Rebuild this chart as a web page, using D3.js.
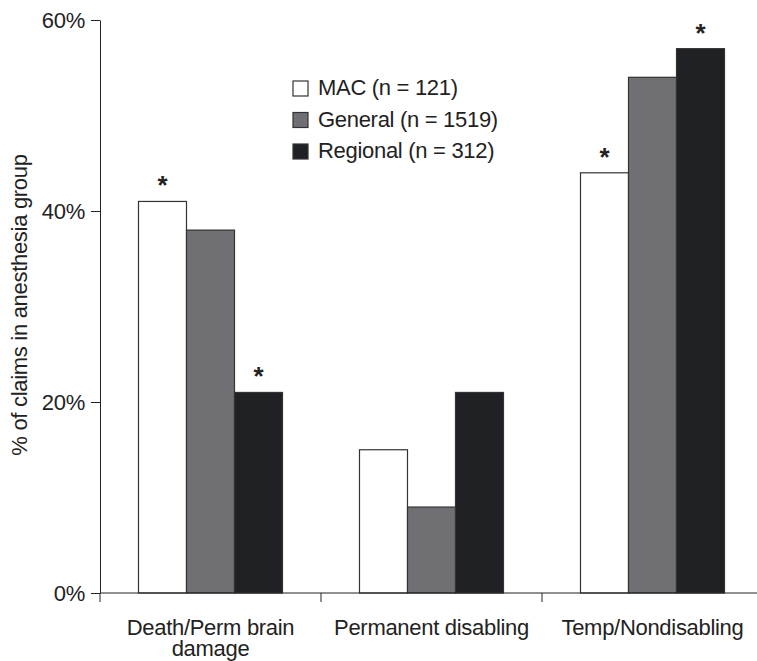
<!DOCTYPE html>
<html>
<head>
<meta charset="utf-8">
<script src="https://cdn.jsdelivr.net/npm/d3@7"></script>
<style>
  body { margin: 0; background: #fff; }
  svg { font-family: "Liberation Sans", Arial, sans-serif; }
  text.lbl { letter-spacing: -0.3px; }
</style>
</head>
<body>
<svg width="757" height="661"></svg>
<script>
const categories = [["Death/Perm brain", "damage"], ["Permanent disabling"], ["Temp/Nondisabling"]];
const seriesNames = ["MAC (n = 121)", "General (n = 1519)", "Regional (n = 312)"];
const seriesColors = ["#ffffff", "#707074", "#202124"];
const mac = [41, 15, 44];
const general = [38, 9, 54];
const regional = [21, 21, 57];
const significant = [[true, false, true], [false, false, false], [true, false, true]];
const yTicks = [0, 20, 40, 60];

const values = [mac, general, regional];
const svg = d3.select('svg');

const y = d3.scaleLinear().domain([0, 60]).range([593, 20]);
const x0 = d3.scaleBand().domain(d3.range(categories.length)).range([100, 763]);
const x1 = d3.scaleBand().domain(d3.range(seriesNames.length))
    .range([(x0.bandwidth() - 144) / 2, (x0.bandwidth() + 144) / 2]);

// y axis
const yAxis = svg.append('g')
    .attr('transform', 'translate(100,0)')
    .call(d3.axisLeft(y).tickValues(yTicks).tickFormat(d => d + '%').tickSize(9).tickSizeOuter(0));
yAxis.select('.domain').attr('stroke', '#222');
yAxis.selectAll('.tick line').attr('stroke', '#222');
yAxis.selectAll('.tick text').attr('class', 'lbl').attr('font-size', 22).attr('fill', '#222').attr('x', -15)
    .attr('font-family', '"Liberation Sans", Arial, sans-serif');

svg.append('text')
    .attr('class', 'lbl')
    .attr('transform', 'translate(27, 305) rotate(-90)')
    .attr('text-anchor', 'middle')
    .attr('font-size', 22)
    .attr('fill', '#222')
    .text('% of claims in anesthesia group');

// bars
const grp = svg.append('g').selectAll('g')
    .data(categories)
    .join('g')
    .attr('transform', (d, i) => `translate(${x0(i)}, 0)`);

grp.selectAll('rect')
    .data((d, i) => values.map((s, j) => ({ j: j, v: s[i], sig: significant[j][i] })))
    .join('rect')
    .attr('x', d => x1(d.j))
    .attr('y', d => y(d.v))
    .attr('width', x1.bandwidth())
    .attr('height', d => y(0) - y(d.v))
    .attr('fill', d => seriesColors[d.j])
    .attr('stroke', '#333')
    .attr('stroke-width', 1.2);

grp.selectAll('text.star')
    .data((d, i) => values.map((s, j) => ({ j: j, v: s[i], sig: significant[j][i] })).filter(d => d.sig))
    .join('text')
    .attr('class', 'star')
    .attr('x', d => x1(d.j) + x1.bandwidth() / 2)
    .attr('y', d => y(d.v) - 7)
    .attr('text-anchor', 'middle')
    .attr('font-size', 26)
    .attr('font-weight', 'bold')
    .attr('fill', '#222')
    .text('*');

// x axis
svg.append('line')
    .attr('x1', 100).attr('x2', 757)
    .attr('y1', y(0)).attr('y2', y(0))
    .attr('stroke', '#222');

svg.append('g').selectAll('line')
    .data(categories)
    .join('line')
    .attr('x1', (d, i) => x0(i)).attr('x2', (d, i) => x0(i))
    .attr('y1', y(0)).attr('y2', y(0) + 9)
    .attr('stroke', '#222');

svg.append('g').selectAll('text')
    .data(categories)
    .join('text')
    .attr('class', 'lbl')
    .attr('x', (d, i) => x0(i) + x0.bandwidth() / 2)
    .attr('y', 635)
    .attr('text-anchor', 'middle')
    .attr('font-size', 22)
    .attr('fill', '#222')
    .selectAll('tspan')
    .data(d => d)
    .join('tspan')
    .attr('x', function () { return this.parentNode.getAttribute('x'); })
    .attr('dy', (d, i) => i === 0 ? 0 : 21)
    .text(d => d);

// legend
const leg = svg.append('g').selectAll('g')
    .data(seriesNames)
    .join('g')
    .attr('transform', (d, i) => `translate(293, ${81 + i * 31.5})`);

leg.append('rect')
    .attr('width', 15).attr('height', 15)
    .attr('fill', (d, i) => seriesColors[i])
    .attr('stroke', '#333')
    .attr('stroke-width', 1.2);

leg.append('text')
    .attr('class', 'lbl')
    .attr('x', 25)
    .attr('y', 14)
    .attr('font-size', 22)
    .attr('fill', '#222')
    .text(d => d);
</script>
</body>
</html>
